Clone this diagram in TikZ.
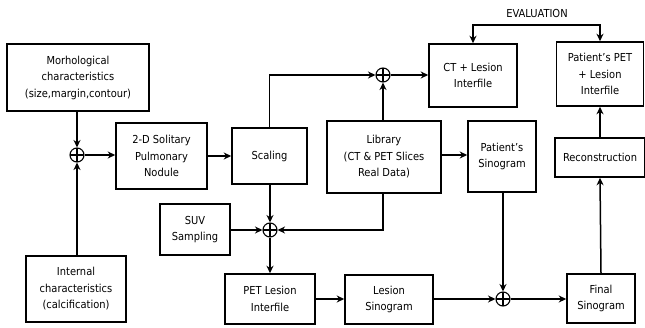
\documentclass[tikz,border=0pt]{standalone}
\usepackage{fontspec}
\setmainfont{DejaVu Sans Condensed}
\usetikzlibrary{arrows.meta}
\newcommand{\apos}{\char39\relax}
\begin{document}
\begin{tikzpicture}[x=1pt,y=-1pt,
  font=\fontsize{11}{16.5}\selectfont,
  box/.style={draw,line width=1.6pt,align=center,inner sep=0pt},
  sumnode/.style={draw,circle,line width=1.1pt,minimum size=14pt,inner sep=0pt,
    path picture={\draw[line width=1.1pt] (path picture bounding box.north) -- (path picture bounding box.south)
      (path picture bounding box.west) -- (path picture bounding box.east);}},
  arr/.style={line width=1.5pt,-{Stealth[length=7.5pt,width=7pt]}},
  darr/.style={line width=1.5pt,{Stealth[length=7.5pt,width=7pt]}-{Stealth[length=7.5pt,width=7pt]}}]
\useasboundingbox[fill=white] (0,0) rectangle (645,327);
\node[box,minimum width=142pt,minimum height=67pt] (morph) at (78,77.5) {Morhological\\characteristics\\(size,margin,contour)};
\node[sumnode] (p1) at (77,155) {};
\node[box,minimum width=91pt,minimum height=66pt] (sol) at (161.5,156) {2-D Solitary\\Pulmonary\\Nodule};
\node[box,minimum width=75pt,minimum height=56pt] (scal) at (269.5,156) {Scaling};
\node[box,minimum width=114pt,minimum height=72pt] (lib) at (384,157) {Library\\(CT \& PET Slices\\Real Data)};
\node[sumnode] (p2) at (383,75) {};
\node[box,minimum width=88pt,minimum height=63pt] (ct) at (473,75.5) {CT + Lesion\\Interfile};
\node[box,minimum width=87pt,minimum height=64pt] (pet) at (600,74) {Patient\apos s PET\\+ Lesion\\Interfile};
\node[box,minimum width=68pt,minimum height=71pt] (psino) at (502,156.5) {Patient\apos s\\Sinogram};
\node[box,minimum width=90pt,minimum height=39pt] (recon) at (600,157.5) {Reconstruction};
\node[box,minimum width=70pt,minimum height=51pt] (suv) at (195,229.5) {SUV\\Sampling};
\node[sumnode] (p3) at (270,230) {};
\node[box,minimum width=100pt,minimum height=66pt] (intl) at (76,289) {Internal\\characteristics\\(calcification)};
\node[box,minimum width=90pt,minimum height=50pt] (petl) at (270,299) {PET Lesion\\Interfile};
\node[box,minimum width=88pt,minimum height=49pt] (lsino) at (389,299.5) {Lesion\\Sinogram};
\node[sumnode] (p4) at (503,299) {};
\node[box,minimum width=68pt,minimum height=49pt] (final) at (601,298.5) {Final\\Sinogram};
\node (eval) at (537,13) {EVALUATION};
% connectors
\draw[arr] (morph.south -| p1) -- (p1.north);
\draw[arr] (intl.north -| p1) -- (p1.south);
\draw[arr] (p1.east) -- (sol.west |- p1);
\draw[arr] (sol.east) -- (scal.west);
\draw[arr] (scal.north) |- (p2.west);
\draw[arr] (lib.north -| p2) -- (p2.south);
\draw[arr] (p2.east) -- (ct.west |- p2);
\draw[arr] (lib.east |- 0,155) -- (psino.west |- 0,155);
\draw[darr] (ct.north) -- ++(0,-18) -| (pet.north);
\draw[arr] (recon.north) -- (pet.south);
\draw[arr] (final.north) -- (recon.south);
\draw[arr] (scal.south -| p3) -- (p3.north);
\draw[arr] (suv.east |- p3) -- (p3.west);
\draw[arr] (lib.south -| p2) |- (p3.east);
\draw[arr] (p3.south) -- (petl.north);
\draw[arr] (petl.east) -- (lsino.west |- petl);
\draw[arr] (lsino.east |- p4) -- (p4.west);
\draw[arr] (psino.south -| p4) -- (p4.north);
\draw[arr] (p4.east) -- (final.west |- p4);
\end{tikzpicture}
\end{document}
